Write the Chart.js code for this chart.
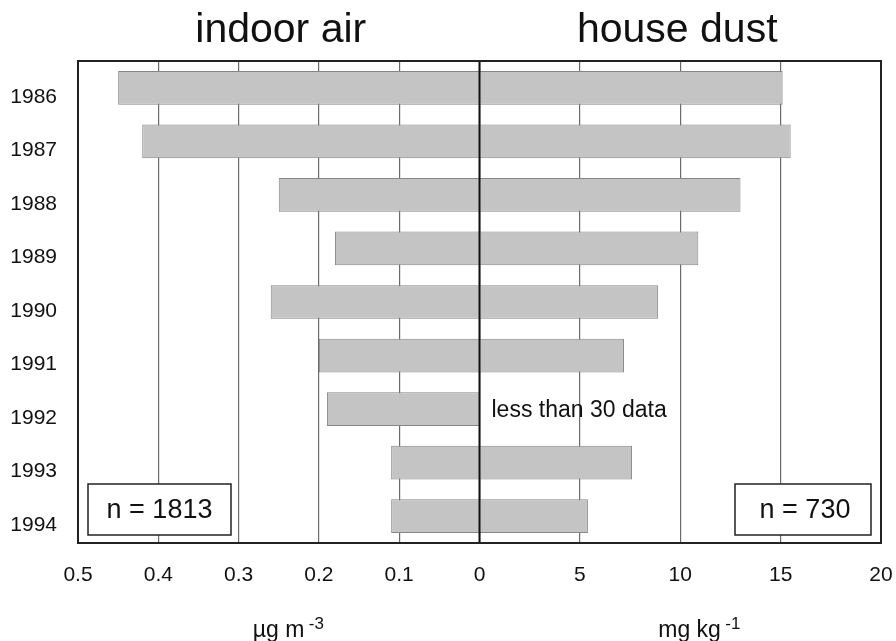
<!DOCTYPE html>
<html lang="en">
<head>
  <meta charset="UTF-8">
  <title>Indoor air and house dust, 1986-1994</title>
  <script src="https://cdn.jsdelivr.net/npm/chart.js"></script>
  <style>
    body {
      margin: 0;
      background: #fff;
    }
    canvas {
      display: block;
    }
  </style>
</head>
<body>
  <canvas id="chart" width="896" height="641"></canvas>

  <script>
    // data per year
    const years = ['1986', '1987', '1988', '1989', '1990', '1991', '1992', '1993', '1994'];
    const airValues = [0.45, 0.42, 0.25, 0.18, 0.26, 0.20, 0.19, 0.11, 0.11];   // µg m-3
    const dustValues = [15.1, 15.5, 13.0, 10.9, 8.9, 7.2, null, 7.6, 5.4];      // mg kg-1 (1992: < 30 samples)

    const airTicks = [0.5, 0.4, 0.3, 0.2, 0.1, 0];
    const dustTicks = [5, 10, 15, 20];

    const FONT = "'Liberation Sans', Arial, sans-serif";
    const INK = '#111';
    const GRID = '#6a6a6a';

    // frame, centre line, titles, units, notes
    const decorations = {
      id: 'decorations',
      afterDatasetsDraw(chart) {
        const ctx = chart.ctx;
        const area = chart.chartArea;
        const xa = chart.scales.xa;
        const xd = chart.scales.xd;
        const y = chart.scales.y;
        const zero = xd.getPixelForValue(0);

        ctx.save();
        // centre line
        ctx.strokeStyle = INK;
        ctx.lineWidth = 2;
        ctx.beginPath();
        ctx.moveTo(zero, area.top);
        ctx.lineTo(zero, area.bottom);
        ctx.stroke();

        // frame
        ctx.strokeStyle = '#222';
        ctx.lineWidth = 2;
        ctx.strokeRect(area.left, area.top, area.right - area.left, area.bottom - area.top);

        // n boxes
        ctx.lineWidth = 1.5;
        ctx.fillStyle = '#fff';
        const boxTop = area.bottom - 59, boxH = 51;
        ctx.fillRect(area.left + 10, boxTop, 143, boxH);
        ctx.strokeRect(area.left + 10, boxTop, 143, boxH);
        ctx.fillRect(area.right - 146, boxTop, 136, boxH);
        ctx.strokeRect(area.right - 146, boxTop, 136, boxH);

        ctx.fillStyle = INK;
        ctx.font = '27px ' + FONT;
        ctx.textAlign = 'center';
        ctx.textBaseline = 'middle';
        ctx.fillText('n = 1813', area.left + 10 + 143 / 2, boxTop + boxH / 2 + 1);
        ctx.fillText('n = 730', area.right - 146 + 136 / 2 + 2, boxTop + boxH / 2 + 1);

        // note for the missing dust value
        ctx.font = '23px ' + FONT;
        ctx.textAlign = 'left';
        ctx.textBaseline = 'alphabetic';
        ctx.fillText('less than 30 data', zero + 12, y.getPixelForValue(6) + 8);

        // titles
        ctx.font = '41px ' + FONT;
        ctx.textAlign = 'center';
        ctx.fillText('indoor air', (xa.left + xa.right) / 2 + 2, 42);
        ctx.fillText('house dust', (xd.left + xd.right) / 2 - 3, 42);

        // unit labels with superscripts
        ctx.textAlign = 'left';
        const unit = (x, base, sup) => {
          ctx.font = '23px ' + FONT;
          ctx.fillText(base, x, 637);
          const w = ctx.measureText(base + ' ').width;
          ctx.font = '17px ' + FONT;
          ctx.fillText(sup, x + w - 2, 629);
        };
        unit((xa.left + xa.right) / 2 - 26, 'µg m', '-3');
        unit((xd.left + xd.right) / 2 - 22, 'mg kg', '-1');
        ctx.restore();
      }
    };

    const barStyle = {
      backgroundColor: '#c4c4c4',
      borderColor: '#868686',
      borderWidth: 1,
      grouped: false,
      barPercentage: 0.63,
      categoryPercentage: 1
    };

    // edge labels may hang over the plot edge without shrinking it
    const fitX = (s) => {
      s.height = 98;
      s.paddingLeft = 0;
      s.paddingRight = 0;
    };

    new Chart(document.getElementById('chart'), {
      type: 'bar',
      data: {
        labels: years,
        datasets: [
          Object.assign({ label: 'indoor air', data: airValues, xAxisID: 'xa' }, barStyle),
          Object.assign({ label: 'house dust', data: dustValues, xAxisID: 'xd' }, barStyle)
        ]
      },
      options: {
        indexAxis: 'y',
        responsive: false,
        animation: false,
        layout: { padding: { top: 61, right: 15, bottom: 0, left: 0 } },
        plugins: {
          legend: { display: false },
          tooltip: { enabled: false }
        },
        scales: {
          y: {
            grid: { display: false, drawTicks: false },
            border: { display: false },
            ticks: {
              color: INK,
              font: { family: FONT, size: 21 },
              padding: 21,
              labelOffset: 9
            },
            afterFit: (s) => { s.width = 78; }
          },
          // left half, values grow to the left
          xa: {
            type: 'linear',
            position: 'bottom',
            stack: 'x',
            stackWeight: 1,
            reverse: true,
            min: 0,
            max: 0.5,
            border: { display: false },
            grid: {
              color: GRID,
              lineWidth: 1.2,
              drawTicks: false
            },
            ticks: {
              color: INK,
              font: { family: FONT, size: 21 },
              padding: 20,
              maxRotation: 0,
              callback: (v) => (v === 0 ? '0' : v.toFixed(1))
            },
            afterBuildTicks: (s) => { s.ticks = airTicks.map(v => ({ value: v })); },
            afterFit: fitX
          },
          // right half
          xd: {
            type: 'linear',
            position: 'bottom',
            stack: 'x',
            stackWeight: 1,
            min: 0,
            max: 20,
            border: { display: false },
            grid: {
              color: GRID,
              lineWidth: 1.2,
              drawTicks: false
            },
            ticks: {
              color: INK,
              font: { family: FONT, size: 21 },
              padding: 20,
              maxRotation: 0
            },
            afterBuildTicks: (s) => { s.ticks = dustTicks.map(v => ({ value: v })); },
            afterFit: fitX
          }
        }
      },
      plugins: [decorations]
    });
  </script>
</body>
</html>
